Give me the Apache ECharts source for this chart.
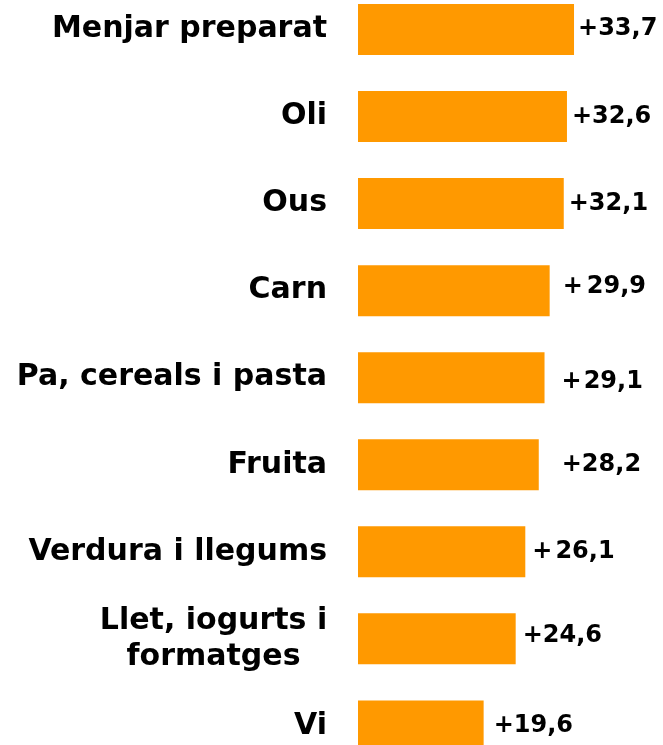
<!DOCTYPE html>
<html>
<head>
<meta charset="utf-8">
<script src="https://cdn.jsdelivr.net/npm/echarts@6/dist/echarts.min.js"></script>
<style>
  html, body { margin: 0; padding: 0; background: #ffffff; overflow: hidden; }
  #chart { position: absolute; left: 0; top: -14px; width: 663px; height: 790px; }
</style>
</head>
<body>
<div id="chart"></div>
<script>
// Price increase by food group (percentage points)
const categories = [
  'Menjar preparat',
  'Oli',
  'Ous',
  'Carn',
  'Pa, cereals i pasta',
  'Fruita',
  'Verdura i llegums',
  'Llet, iogurts i\nformatges',
  'Vi'
];
const values = [33.7, 32.6, 32.1, 29.9, 29.1, 28.2, 26.1, 24.6, 19.6];

// Label placement tweaks: gap after the bar end, extra space after "+", vertical nudge
const labelGap = [4, 5, 5, 13, 17, 23, 7, 7, 10];
const plusGap = [0, 0, 0, 4, 2, 0, 3, 0, 0];
const labelShiftY = [-1, 0, 0, -4, 4, 0, 0, -3, 0];

const FONT = '"DejaVu Sans", sans-serif';

function formatValue(v) {
  return v.toFixed(1).replace('.', ',');
}

const barData = values.map((v, i) => ({
  value: v,
  label: {
    show: true,
    position: 'right',
    distance: labelGap[i],
    offset: [0, labelShiftY[i]],
    formatter: (p) => '{p|+}{n|' + formatValue(p.value) + '}',
    rich: {
      p: { fontFamily: FONT, fontWeight: 'bold', fontSize: 24, color: '#000', padding: [0, plusGap[i], 0, 0] },
      n: { fontFamily: FONT, fontWeight: 'bold', fontSize: 24, color: '#000' }
    }
  }
}));

const chart = echarts.init(document.getElementById('chart'), null, { renderer: 'canvas' });

chart.setOption({
  backgroundColor: '#ffffff',
  animation: false,
  grid: {
    left: 358,
    top: 0,
    width: 256.4,
    height: 783.4,
    containLabel: false
  },
  xAxis: {
    type: 'value',
    min: 0,
    max: 40,
    show: false
  },
  yAxis: {
    type: 'category',
    data: categories,
    inverse: true,
    axisLine: { show: false },
    axisTick: { show: false },
    splitLine: { show: false },
    axisLabel: {
      margin: 31,
      fontFamily: FONT,
      fontWeight: 'bold',
      fontSize: 30,
      color: '#000',
      formatter: (name) => {
        if (name.indexOf('\n') < 0) return name;
        return name.split('\n').map((line) => '{c|' + line + '}').join('\n');
      },
      rich: {
        c: {
          fontFamily: FONT,
          fontWeight: 'bold',
          fontSize: 30,
          color: '#000',
          width: 227,
          align: 'center',
          lineHeight: 36
        }
      }
    }
  },
  series: [{
    type: 'bar',
    data: barData,
    barWidth: 51,
    itemStyle: { color: '#FF9900' }
  }]
});
</script>
</body>
</html>
